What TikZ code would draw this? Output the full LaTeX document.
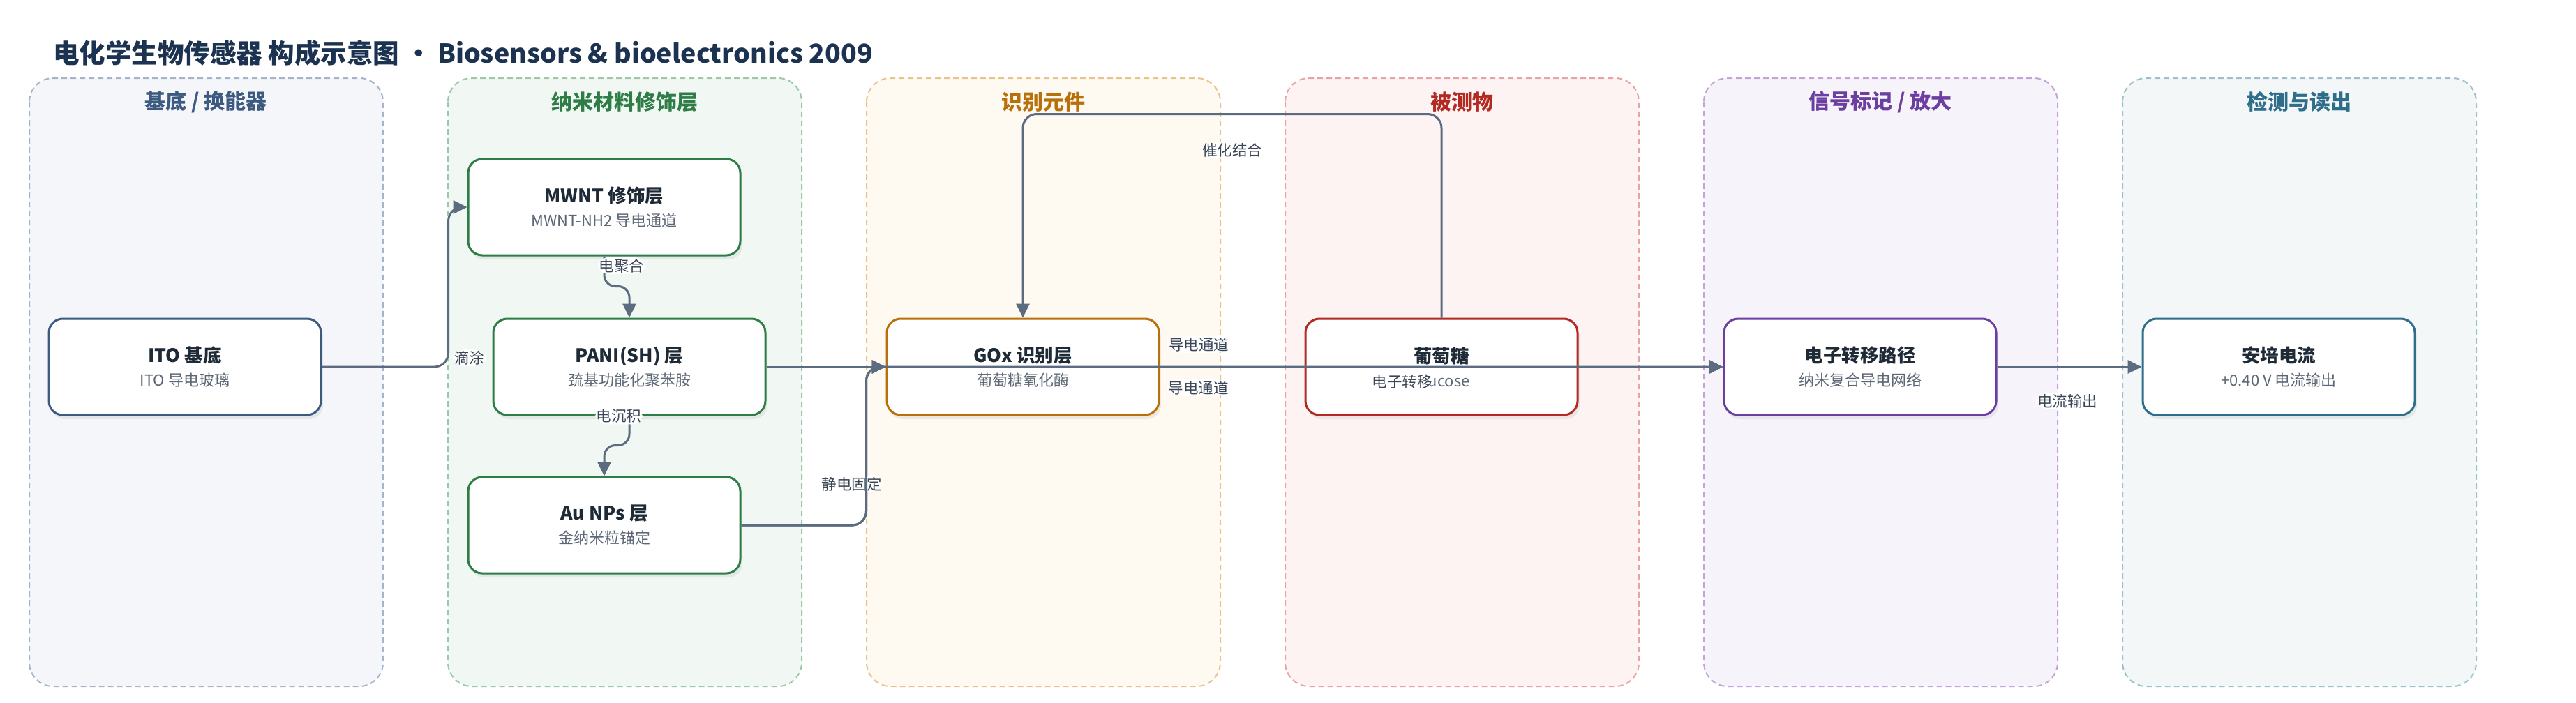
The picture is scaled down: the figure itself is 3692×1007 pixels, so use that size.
\documentclass[tikz,border=0pt]{standalone}
\usepackage{fontspec}
\setmainfont{Noto Sans CJK SC}
\usetikzlibrary{arrows.meta,shadows}

\definecolor{edgec}{HTML}{5B6B80}
\definecolor{titc}{HTML}{1F2A37}
\definecolor{subc}{HTML}{5C6675}
\definecolor{lblc}{HTML}{3A4656}
\definecolor{headc}{HTML}{1B3350}
% lane colours: fill / border / header
\definecolor{fa}{HTML}{F4F6FA}\definecolor{ba}{HTML}{A5B4C8}\definecolor{ha}{HTML}{3D5A80}
\definecolor{fb}{HTML}{F1F8F3}\definecolor{bb}{HTML}{9CC9A8}\definecolor{hb}{HTML}{2E7D46}
\definecolor{fc}{HTML}{FEF9F1}\definecolor{bc}{HTML}{E8C48C}\definecolor{hc}{HTML}{B8700A}
\definecolor{fd}{HTML}{FEF3F3}\definecolor{bd}{HTML}{E8A4A4}\definecolor{hd}{HTML}{B22A22}
\definecolor{fe}{HTML}{F7F3FB}\definecolor{be}{HTML}{C4A4D8}\definecolor{he}{HTML}{6B3FA0}
\definecolor{ff}{HTML}{F3F7F8}\definecolor{bf}{HTML}{9CC0CC}\definecolor{hf}{HTML}{2F6E8A}

\newcommand{\ttl}[1]{{\fontsize{13.25}{17}\selectfont\bfseries\color{titc}#1}}
\newcommand{\sbt}[1]{{\color{subc}#1}}

\tikzset{
  lane/.style 2 args={draw=#1, fill=#2, line width=1pt, dash pattern=on 4pt off 2.5pt, rounded corners=17pt},
  lanehead/.style={font=\fontsize{15}{18}\selectfont\bfseries, text=#1},
  box/.style={draw=#1, fill=white, line width=1.5pt, rounded corners=10pt,
    minimum width=195pt, minimum height=69pt, align=center,
    font=\fontsize{11}{17}\selectfont,
    drop shadow={opacity=0.13, shadow xshift=1.5pt, shadow yshift=-3pt}},
  flow/.style={draw=edgec, line width=1.5pt, rounded corners=10pt,
    -{Triangle[length=10pt,width=9.5pt]}},
  lbl/.style={fill=white, inner sep=1pt, text=lblc, font=\fontsize{10.75}{12}\selectfont},
}

\begin{document}
\begin{tikzpicture}[x=0.5pt,y=-0.5pt]
\useasboundingbox (0,0) rectangle (3692,1007);

\node[anchor=west, inner sep=0pt, text=headc, font=\fontsize{18.75}{22}\selectfont\bfseries]
  (title) at (76,76) {电化学生物传感器 构成示意图 • Biosensors \& bioelectronics 2009};

% lanes
\draw[lane={ba}{fa}] (42,112) rectangle (549,984);
\draw[lane={bb}{fb}] (642,112) rectangle (1149,984);
\draw[lane={bc}{fc}] (1242,112) rectangle (1749,984);
\draw[lane={bd}{fd}] (1842,112) rectangle (2349,984);
\draw[lane={be}{fe}] (2442,112) rectangle (2949,984);
\draw[lane={bf}{ff}] (3042,112) rectangle (3549,984);

\node[lanehead=ha] (hsub) at (295,146) {基底 / 换能器};
\node[lanehead=hb] (hnano) at (895,146) {纳米材料修饰层};
\node[lanehead=hc] (hrec) at (1495,146) {识别元件};
\node[lanehead=hd] (hana) at (2095,146) {被测物};
\node[lanehead=he] (hsig) at (2695,146) {信号标记 / 放大};
\node[lanehead=hf] (hdet) at (3295,146) {检测与读出};

% nodes
\node[box=ha] (ito) at (265,526) {\ttl{ITO 基底}\\\sbt{ITO 导电玻璃}};
\node[box=hb] (mwnt) at (866,297) {\ttl{MWNT 修饰层}\\\sbt{MWNT-NH2 导电通道}};
\node[box=hb] (pani) at (902,526) {\ttl{PANI(SH) 层}\\\sbt{巯基功能化聚苯胺}};
\node[box=hb] (au) at (866,753) {\ttl{Au NPs 层}\\\sbt{金纳米粒锚定}};
\node[box=hc] (gox) at (1466,526) {\ttl{GOx 识别层}\\\sbt{葡萄糖氧化酶}};
\node[box=hd] (gluc) at (2066,526) {\ttl{葡萄糖}\\\sbt{Glucose}};
\node[box=he] (elec) at (2666,526) {\ttl{电子转移路径}\\\sbt{纳米复合导电网络}};
\node[box=hf] (cur) at (3266,526) {\ttl{安培电流}\\\sbt{+0.40 V 电流输出}};

% connectors
\draw[flow] (ito.east) -- ++(181,0)
  node[lbl, anchor=west, xshift=2.5pt, yshift=6.5pt] {滴涂} |- (mwnt.west);
\draw[flow, rounded corners=8pt] (mwnt.south)
  node[lbl, anchor=north, xshift=12.5pt] {电聚合} -- ++(0,43) -| (pani.north);
\draw[flow, rounded corners=8pt] (pani.south)
  node[lbl, xshift=-7.5pt] {电沉积} -- ++(0,42) -| (au.north);
\draw[flow] (pani.east) -- (gox.west);
\draw[flow] (au.east) -- ++(179,0) |- node[lbl, pos=0.13, xshift=-10.5pt] {静电固定} (gox.west);
\draw[flow] (gluc.north) -- ++(0,-292) -| node[lbl, pos=0.25, yshift=-26pt] {催化结合} (gox.north);
\draw[flow] (pani.east) -- node[lbl, pos=0.452, yshift=16pt] {导电通道} (elec.west);
\draw[flow] (au.east) -- ++(179,0) |- node[lbl, pos=0.694, yshift=-15pt] {导电通道} (elec.west);
\draw[flow] (gox.east) -- node[lbl, pos=0.43, yshift=-10.5pt] {电子转移} (elec.west);
\draw[flow] (elec.east) -- node[lbl, pos=0.486, yshift=-24.5pt] {电流输出} (cur.west);
\end{tikzpicture}
\end{document}
